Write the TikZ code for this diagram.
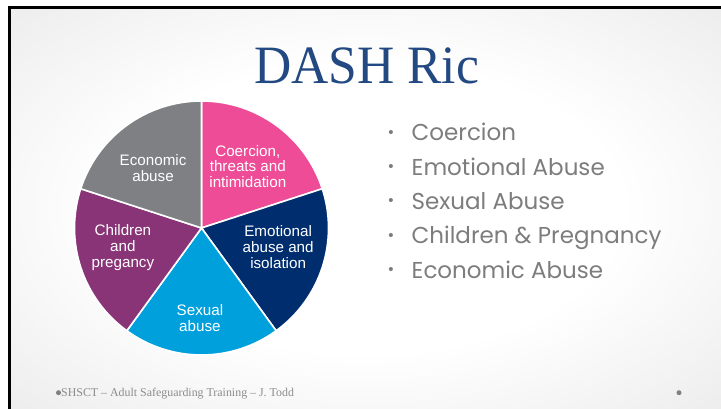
\documentclass[tikz,border=0pt]{standalone}
\usepackage{fontspec}
\setmainfont{Liberation Serif}
\setsansfont{Liberation Sans}
\newfontfamily\listfont{Poppins}
\usetikzlibrary{positioning}

\definecolor{titleBlue}{RGB}{35,73,130}
\definecolor{coercionPink}{RGB}{238,76,151}
\definecolor{emotionalNavy}{RGB}{0,45,110}
\definecolor{sexualCyan}{RGB}{0,160,221}
\definecolor{childrenPurple}{RGB}{137,52,119}
\definecolor{economicGray}{RGB}{127,128,132}
\definecolor{listGray}{RGB}{125,125,125}
\definecolor{footGray}{RGB}{140,140,140}

\pgfdeclareradialshading{slideShade}{\pgfpoint{0bp}{0bp}}{color(0bp)=(white); color(18bp)=(white); color(50bp)=(black!13); color(72bp)=(black!20)}

\newcommand{\listdot}{\llap{\raisebox{3.5pt}{\sffamily\fontsize{15}{15}\selectfont •}\hspace{18pt}}}

\begin{document}
\begin{tikzpicture}[x=1pt, y=1pt, node distance=34.4pt,
    slice/.style = {draw=white, line width=1.6pt, line join=round},
    sliceText/.style = {text=white, align=center, inner sep=0pt,
      font=\sffamily\fontsize{15.2}{15.8}\selectfont},
    item/.style = {text=listGray, anchor=west, inner sep=0pt,
      text height=17pt, text depth=6pt, font=\listfont\fontsize{23}{23}\selectfont},
    footDot/.style = {circle, fill=black!50, inner sep=0pt, minimum size=5pt}]
    \useasboundingbox (0,0) rectangle (721,409);
    \fill[white] (0,0) rectangle (721,409);
    \shade[shading=slideShade] (9.5,0) rectangle (721,401.5);
    \draw[line width=3pt] (9.5,0) -- (9.5,401.5) -- (721,401.5);

    \node[text=titleBlue, anchor=base, inner sep=0pt,
      font=\fontsize{54}{60}\selectfont] (title) at (366.5,325.7) {\scalebox{0.955}[1]{DASH Ric}};

    % pie
    \coordinate (pie) at (201.5,181);
    \filldraw[slice, fill=coercionPink] (pie) -- ++(18:127) arc[start angle=18, end angle=90, radius=127] -- cycle;
    \filldraw[slice, fill=emotionalNavy] (pie) -- ++(-54:127) arc[start angle=-54, end angle=18, radius=127] -- cycle;
    \filldraw[slice, fill=sexualCyan] (pie) -- ++(-126:127) arc[start angle=-126, end angle=-54, radius=127] -- cycle;
    \filldraw[slice, fill=childrenPurple] (pie) -- ++(162:127) arc[start angle=162, end angle=234, radius=127] -- cycle;
    \filldraw[slice, fill=economicGray] (pie) -- ++(90:127) arc[start angle=90, end angle=162, radius=127] -- cycle;

    \node[sliceText] (coercion) at ([shift={(53:77)}]pie) {Coercion,\\threats and\\intimidation};
    \node[sliceText] (emotional) at ([shift={(-14:79)}]pie) {Emotional\\abuse and\\isolation};
    \node[sliceText] (sexual) at ([shift={(-91:90)}]pie) {Sexual\\abuse};
    \node[sliceText] (children) at ([shift={(194:81)}]pie) {Children\\and\\pregancy};
    \node[sliceText] (economic) at ([shift={(129:77)}]pie) {Economic\\abuse};

    % list
    \node[item] (coercionItem) at (411.5,273.8) {\listdot Coercion};
    \node[item, below=34.4pt of coercionItem.west, anchor=west] (emotionalItem) {\listdot Emotional Abuse};
    \node[item, below=34.4pt of emotionalItem.west, anchor=west] (sexualItem) {\listdot Sexual Abuse};
    \node[item, below=34.4pt of sexualItem.west, anchor=west] (childrenItem) {\listdot Children \& Pregnancy};
    \node[item, below=34.4pt of childrenItem.west, anchor=west] (economicItem) {\listdot Economic Abuse};

    % footer
    \node[text=footGray, anchor=base west, inner sep=0pt,
      font=\fontsize{11.9}{13}\selectfont] (footer) at (61,12.3) {SHSCT – Adult Safeguarding Training – J. Todd};
    \node[footDot] (leftDot) at (58.5,16.3) {};
    \node[footDot] (rightDot) at (679,16.3) {};
\end{tikzpicture}
\end{document}
